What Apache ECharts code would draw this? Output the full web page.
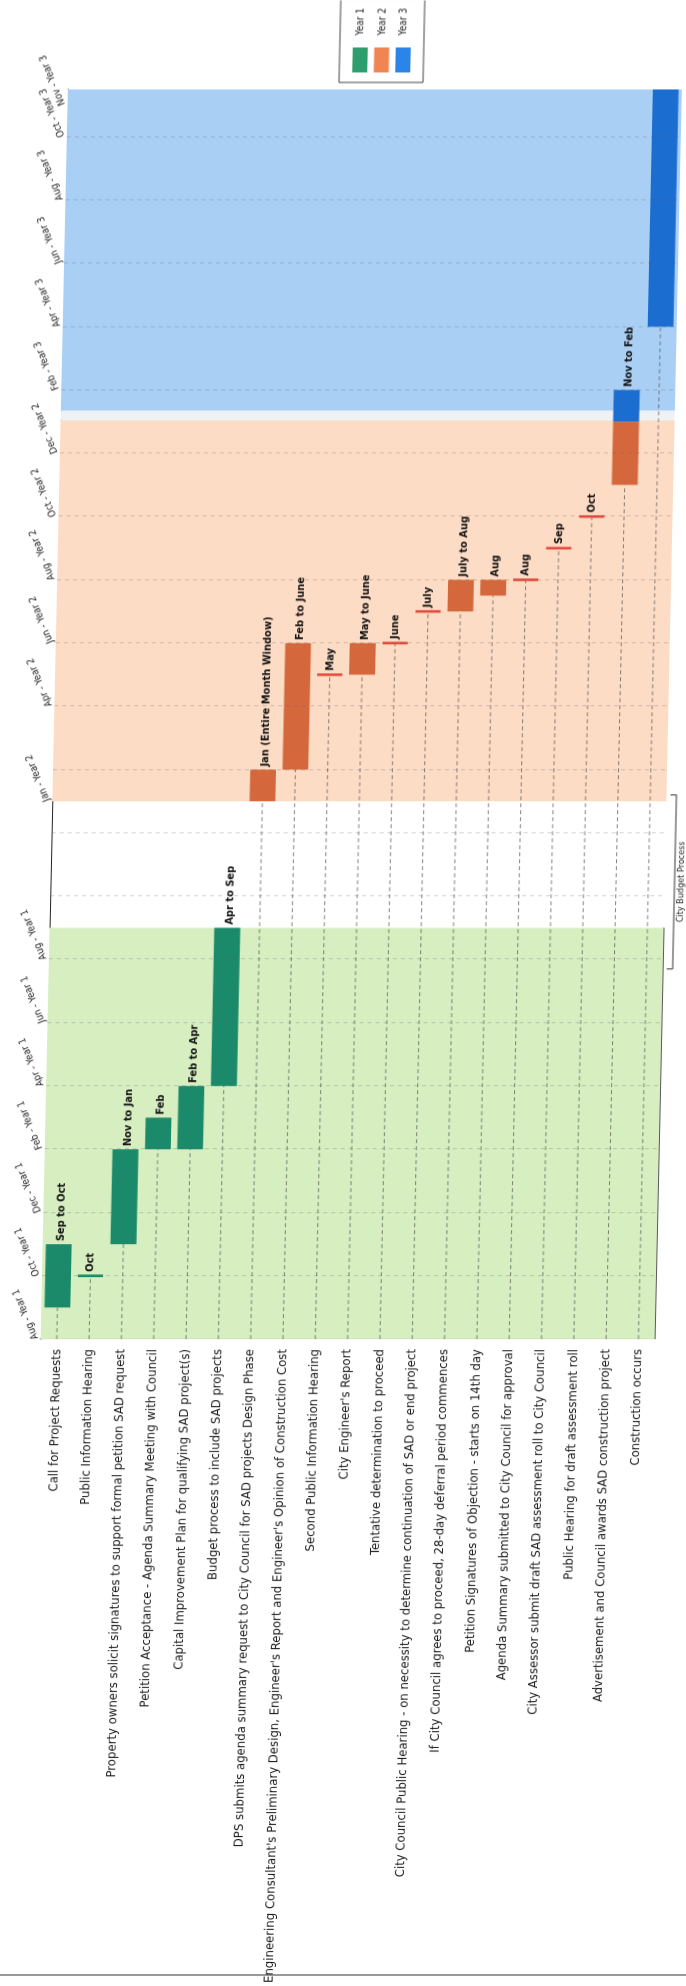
<!DOCTYPE html>
<html><head><meta charset="utf-8">
<script src="https://cdn.jsdelivr.net/npm/echarts@6/dist/echarts.min.js"></script>
<style>
html,body{margin:0;padding:0;background:#fff;width:686px;height:1986px;overflow:hidden;}
#wrap{position:absolute;left:0;top:0;width:1986px;height:700px;transform-origin:0 0;
transform:translate(40px,1366px) skewX(-1.25deg) translate(-40px,620px) rotate(-90deg);}
#chart{width:1986px;height:700px;}
</style></head><body>
<div id="wrap"><div id="chart"></div></div>
<script>
const tasks = [
  "Call for Project Requests",
  "Public Information Hearing",
  "Property owners solicit signatures to support formal petition SAD request",
  "Petition Acceptance - Agenda Summary Meeting with Council",
  "Capital Improvement Plan for qualifying SAD project(s)",
  "Budget process to include SAD projects",
  "DPS submits agenda summary request to City Council for SAD projects Design Phase",
  "Engineering Consultant's Preliminary Design, Engineer's Report and Engineer's Opinion of Construction Cost",
  "Second Public Information Hearing",
  "City Engineer's Report",
  "Tentative determination to proceed",
  "City Council Public Hearing - on necessity to determine continuation of SAD or end project",
  "If City Council agrees to proceed, 28-day deferral period commences",
  "Petition Signatures of Objection - starts on 14th day",
  "Agenda Summary submitted to City Council for approval",
  "City Assessor submit draft SAD assessment roll to City Council",
  "Public Hearing for draft assessment roll",
  "Advertisement and Council awards SAD construction project",
  "Construction occurs"
];
// months counted from Aug - Year 1 (axis start)
const monthTicks  = [0,2,4,6,8,10,12,17,20,22,24,26,28,30,32,34,36,38,39];
const monthLabels = ["Aug - Year 1","Oct - Year 1","Dec - Year 1","Feb - Year 1","Apr - Year 1","Jun - Year 1","Aug - Year 1",
  "Jan - Year 2","Apr - Year 2","Jun - Year 2","Aug - Year 2","Oct - Year 2","Dec - Year 2",
  "Feb - Year 3","Apr - Year 3","Jun - Year 3","Aug - Year 3","Oct - Year 3","Nov - Year 3"];
const gridMonths = [2,4,6,8,10,12,14,16,18,20,22,24,26,28,30,32,34,36,38];

const barTask  = [0, 2, 3, 4, 5, 6, 7, 9, 12, 13, 17, 17, 18];
const barStart = [1, 3, 6, 6, 8, 17, 18, 21, 23, 23.5, 27, 29, 32];
const barEnd   = [3, 6, 7, 8, 13, 18, 22, 22, 24, 24, 29, 30, 39.5];
const barYear  = [1, 1, 1, 1, 1, 2, 2, 2, 2, 2, 2, 3, 3];
const barLabel = ["Sep to Oct","Nov to Jan","Feb","Feb to Apr","Apr to Sep","Jan (Entire Month Window)","Feb to June","May to June","July to Aug","Aug","","Nov to Feb",""];

const msTask  = [1, 8, 10, 11, 14, 15, 16];
const msMonth = [2, 21, 22, 23, 24, 25, 26];
const msYear  = [1, 2, 2, 2, 2, 2, 2];
const msLabel = ["Oct","May","June","July","Aug","Sep","Oct"];

const bandStart = [0, 17, 29.05, 29.35];
const bandEnd   = [13, 29.05, 29.35, 39.5];
const budgetSpan = [11.7, 17.2];

const FONT = "'Liberation Sans Narrow','Arial Narrow','DejaVu Sans Condensed',sans-serif";
const barColors = {1:'#1b8a6b', 2:'#d4683c', 3:'#1c6dd0'};
const msColors  = {1:'#1b8a6b', 2:'#e5483b'};
const bandColors = ['#d7eec1','#fddcc6','#eef2f6','#a9cff5'];

const chart = echarts.init(document.getElementById('chart'), null, {renderer:'canvas'});

function renderBar(params, api){
  const t = api.value(0), s = api.value(1), e = api.value(2), li = api.value(3);
  const p0 = api.coord([s, t]), p1 = api.coord([e, t]);
  const h = api.size([0,1])[1]*0.8;
  const children = [{type:'rect', shape:{x:p0[0], y:p0[1]-h/2, width:p1[0]-p0[0], height:h}, style:{fill:api.visual('color')}}];
  const txt = barLabel[li];
  if (txt) children.push({type:'text', style:{text:txt, x:p1[0]+3, y:p0[1]+2, fill:'#111', font:'bold 11px '+FONT, align:'left', verticalAlign:'middle'}});
  return {type:'group', children};
}
function renderMs(params, api){
  const t = api.value(0), m = api.value(1), li = api.value(2);
  const p = api.coord([m, t]);
  const h = api.size([0,1])[1]*0.78;
  return {type:'group', children:[
    {type:'rect', shape:{x:p[0]-1.3, y:p[1]-h/2, width:2.6, height:h}, style:{fill:api.visual('color')}},
    {type:'text', style:{text:msLabel[li], x:p[0]+4, y:p[1], fill:'#111', font:'bold 11px '+FONT, align:'left', verticalAlign:'middle'}}
  ]};
}
function renderConn(params, api){
  const t = api.value(0), s = api.value(1);
  const p0 = api.coord([0, t]), p1 = api.coord([s, t]);
  return {type:'line', shape:{x1:p0[0], y1:p0[1], x2:p1[0], y2:p1[1]}, style:{stroke:'rgba(90,90,90,0.75)', lineWidth:1, lineDash:[4,3]}};
}

const firstStart = tasks.map((_, i) => {
  const a = [];
  barTask.forEach((t, j) => { if (t === i) a.push(barStart[j]); });
  msTask.forEach((t, j) => { if (t === i) a.push(msMonth[j]); });
  return Math.min.apply(null, a);
});

const series = [];
series.push({
  type:'scatter', name:'bg', data:[[0, 0]], symbolSize:0, silent:true, z:0,
  markArea:{silent:true, data: bandStart.map((s, i) => [{xAxis:s, itemStyle:{color:bandColors[i]}}, {xAxis:bandEnd[i]}])},
  markLine:{silent:true, symbol:['none','none'], label:{show:false},
    lineStyle:{color:'rgba(90,90,90,0.28)', type:[4,4], width:1},
    data: gridMonths.map(m => ({xAxis:m}))}
});
series.push({type:'custom', name:'conn', renderItem:renderConn, z:1, silent:true,
  data: tasks.map((_, i) => [i, firstStart[i]])});
[1,2,3].forEach(y => {
  const d = [];
  barTask.forEach((t, j) => { if (barYear[j] === y) d.push([t, barStart[j], barEnd[j], j]); });
  series.push({type:'custom', name:'Year '+y, renderItem:renderBar, z:3, itemStyle:{color:barColors[y]}, data:d, encode:{x:[1,2], y:0}});
});
[1,2].forEach(y => {
  const d = [];
  msTask.forEach((t, j) => { if (msYear[j] === y) d.push([t, msMonth[j], j]); });
  series.push({type:'custom', name:'ms'+y, renderItem:renderMs, z:3, itemStyle:{color:msColors[y]}, data:d, encode:{x:1, y:0}});
});

const labelMap = {};
monthTicks.forEach((m, i) => labelMap[m] = monthLabels[i]);

const GB = 46;
chart.setOption({
  animation:false,
  backgroundColor:'#fff',
  grid:{left:620, right:89, top:40, bottom:GB},
  xAxis:{type:'value', position:'top', min:0, max:39.5, interval:1,
    axisLine:{show:true, lineStyle:{color:'#222', width:1.2}},
    axisTick:{show:false}, splitLine:{show:false},
    axisLabel:{rotate:-23, margin:5, fontSize:10, color:'#222', fontFamily:FONT,
      showMaxLabel:false,
      formatter: v => { const r = Math.round(v); return Math.abs(v - r) < 1e-6 && labelMap[r] ? labelMap[r] : ''; }}},
  yAxis:{type:'category', inverse:true, data:tasks,
    axisLine:{show:true, lineStyle:{color:'#333', width:1}},
    axisTick:{show:false}, splitLine:{show:false},
    axisLabel:{fontSize:13, color:'#1a1a1a', margin:10, fontFamily:FONT}},
  legend:{orient:'vertical', left:1904, top:311, itemWidth:25, itemHeight:15, itemGap:6.5,
    padding:[13,8,13,10], borderColor:'#444', borderWidth:1, icon:'rect',
    textStyle:{fontSize:10, color:'#222', fontFamily:FONT, padding:[0,0,0,7]},
    data:[{name:'Year 1', itemStyle:{color:'#2f9e6e'}}, {name:'Year 2', itemStyle:{color:'#f08452'}}, {name:'Year 3', itemStyle:{color:'#2b84e8'}}]},
  series
});

// City Budget Process bracket, green-area right border, page bottom edge
const xa = chart.convertToPixel({xAxisIndex:0}, budgetSpan[0]);
const xb = chart.convertToPixel({xAxisIndex:0}, budgetSpan[1]);
const x0 = chart.convertToPixel({xAxisIndex:0}, bandStart[0]);
const x13 = chart.convertToPixel({xAxisIndex:0}, bandEnd[0]);
const plotBottom = 700 - GB;
const yb = plotBottom + 10;
chart.setOption({graphic:[
  {type:'polyline', shape:{points:[[xa, yb-6],[xa, yb],[xb, yb],[xb, yb-6]]}, style:{stroke:'#333', lineWidth:1, fill:null}},
  {type:'text', style:{text:'City Budget Process', x:(xa+xb)/2, y:yb+7, fill:'#222', font:'9px '+FONT, align:'center', verticalAlign:'middle'}},
  {type:'line', shape:{x1:x0, y1:plotBottom, x2:x13, y2:plotBottom}, style:{stroke:'#222', lineWidth:1.6}},
  {type:'line', shape:{x1:11, y1:0, x2:11, y2:700}, style:{stroke:'#555', lineWidth:1.2}}
]});
</script>
</body></html>
